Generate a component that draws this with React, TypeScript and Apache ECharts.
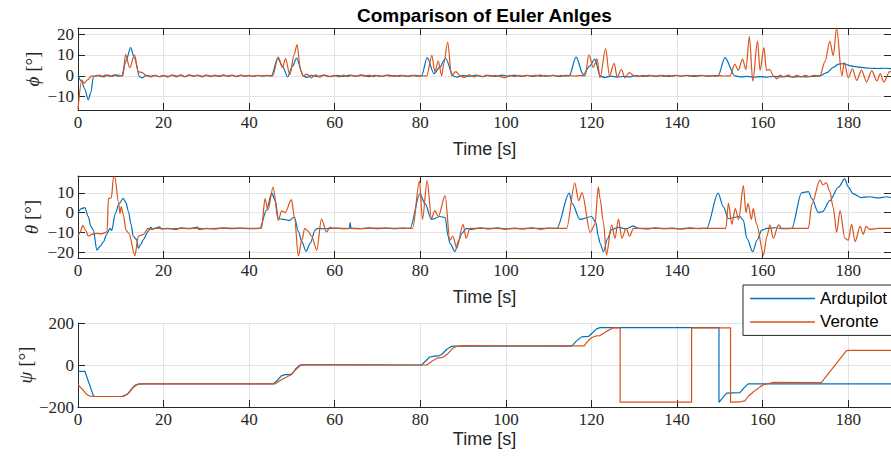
import React, { useEffect, useRef } from 'react';
import * as echarts from 'echarts';

// ---- data -------------------------------------------------------------
const seriesNames = ['Ardupilot', 'Veronte'];
const timeTicks = [0, 20, 40, 60, 80, 100, 120, 140, 160, 180];
const phiTicks = [-10, 0, 10, 20];
const thetaTicks = [-20, -10, 0, 10];
const psiTicks = [-200, 0, 200];

// roll angle phi [deg] vs time [s]
const phiArdupilot: [number, number][] = [
  [0, 0], [0.8, -2.5], [1.6, -6.5], [2.4, -11.5], [3.0, -8], [3.6, -0.5], [4.5, 0.2], [5.5, -0.4], [6.5, 0.3],
  [7.5, -0.3], [8.5, 0.4], [9.5, -0.2], [10.2, 0], [11.2, 7], [12.3, 13.5], [13.2, 8.5], [14.4, -0.5], [15, -1],
  [16, 0.2], [17, -0.3], [18, 0.2], [19, -0.4], [20, 0.1], [21, -0.3], [22, 0.3], [23, -0.2], [24, 0.2], [25, -0.4],
  [26, 0.3], [27, -0.2], [28, 0.2], [29, -0.3], [30, 0.3], [31, -0.2], [32, 0.1], [33, -0.3], [34, 0.2], [35, -0.2],
  [36, 0.3], [37, -0.3], [38, 0.2], [39, -0.2], [40, 0.1], [41, -0.3], [42, 0.2], [43, -0.2], [44, 0.1], [45.2, 0],
  [46.7, 8.5], [47.8, 4.5], [49.0, -0.5], [50.1, 4.5], [51.1, 8.5], [52.6, 0], [53.5, -0.8], [54.5, 0.2], [56, -0.3],
  [57.5, 0.3], [59, -0.4], [60.5, 0.2], [62, -0.3], [63.5, 0.3], [65, -0.2], [66.5, 0.3], [68, -0.4], [69.5, 0.2],
  [71, -0.3], [72.5, 0.3], [74, -0.2], [75.5, 0.2], [77, -0.3], [78.5, 0.2], [80.3, 0], [81.6, 8.7], [83.2, 1],
  [84.5, 4], [85.9, 8.4], [87.7, 0], [88.5, -0.6], [90, 0.2], [91.5, -0.3], [93, 0.3], [94.5, -0.4], [96, 0.2],
  [97.5, -0.3], [99, 0.3], [100.5, -0.2], [102, 0.3], [103.5, -0.3], [105, 0.2], [106.5, -0.3], [108, 0.3],
  [109.5, -0.2], [111, 0.2], [112.5, -0.3], [114, 0.2], [114.8, 0], [116.4, 8.9], [118.1, 0.5], [119.5, 4.5],
  [120.8, 8], [122, 0], [123, -0.8], [124.5, -0.2], [126, -0.6], [127.5, -0.3], [129, -0.5], [130.5, 0.1],
  [132, -0.3], [133.5, 0.2], [135, -0.3], [136.5, 0.2], [138, -0.3], [139.5, 0.2], [141, -0.2], [142.5, 0.2],
  [144, -0.3], [145.5, 0.2], [147, -0.2], [148.5, 0.1], [149.6, 0], [151.2, 8.7], [153.5, 0], [155, -0.5],
  [156.5, -0.3], [158, -0.7], [159.5, -0.4], [161, -0.6], [162.5, -0.3], [164, -0.5], [165.5, -0.3], [167, -0.6],
  [168.5, -0.4], [170, -0.5], [171.5, -0.3], [173.4, 0], [175, 1.5], [176.5, 4], [177.7, 5.6], [179, 5.8],
  [180.2, 5], [181.2, 4.5], [183, 4], [185, 3.6], [187, 3.5], [188.5, 3.6], [190, 3.4],
];

const phiVeronte: [number, number][] = [
  [0, -16], [0.9, -2], [1.4, -3.5], [2.2, -2], [3.2, 0], [4, -0.3], [5, 0.3], [6, -0.6], [7, 0.4], [8, -0.3],
  [9, 0.5], [10.5, 0], [11.1, 10.2], [12.1, 3.9], [13.2, 10], [14.1, 2], [15, 1.5], [16, 0], [17, -0.5], [18, 0.2],
  [19, -0.4], [20, 0.2], [21, -0.6], [22, 0.3], [23, -0.5], [24, 0.4], [25, -0.4], [26, 0.5], [27, -0.3], [28, 0.3],
  [29, -0.5], [30, 0.2], [31, -0.4], [32, 0.3], [33, -0.2], [34, 0.4], [35, -0.3], [36, 0.2], [37, -0.4], [38, 0.3],
  [39, -0.2], [40, 0.2], [41, -0.3], [42, 0.2], [43, -0.2], [44, 0.2], [45.5, 0], [46.8, 9], [47.8, 4], [48.5, 8.2],
  [49.5, 0.5], [50.5, 10], [51.2, 15], [52.0, 3], [52.6, 0], [53.5, 0.8], [54.5, -1], [55.5, 0.4], [56.5, -0.7],
  [57.5, 0.3], [58.5, -0.4], [60, 0.2], [61, -0.5], [62, 0.3], [63, -0.4], [64, 0.2], [65, -0.3], [66, 0.4],
  [67, -0.2], [68, 0.3], [69, -0.4], [70, 0.2], [71, -0.3], [72, 0.3], [73, -0.2], [74, 0.2], [75, -0.3], [76, 0.2],
  [77, -0.2], [78, 0.2], [79, -0.2], [81.5, 0], [82.7, 9.8], [83.4, 2], [84.2, 7], [85, 0], [85.5, 6], [86.4, 16.2],
  [87.3, 0], [88.3, 2], [89.3, 0], [90.3, -0.8], [91.5, 0.4], [92.5, -0.5], [93.5, 0.2], [94.5, -0.4], [95.5, 0.3],
  [96.5, -0.2], [97.5, 0.2], [98.5, -0.3], [99.8, -1], [101, 0.2], [102, -0.4], [103, 0.2], [104, -0.3], [105, 0.2],
  [106, -0.2], [107, 0.3], [108, -0.3], [109, 0.2], [110, -0.2], [111, 0.2], [112, -0.2], [113, 0.2], [114, -0.2],
  [115, 0.2], [116, -0.2], [117, 0.1], [118.5, 0], [119.4, 10], [120.4, 4], [121.3, 8], [122, -1], [123.3, 13],
  [124.2, 0], [125.3, 6], [126, -0.5], [127, 3], [127.8, -1], [128.8, 1.5], [130, 0], [131, -0.4], [132, 0.2],
  [133, -0.3], [134, 0.2], [135, -0.2], [136, 0.2], [137, -0.3], [138, 0.2], [139, -0.2], [140, 0.2], [141, -0.2],
  [142, 0.2], [143, -0.2], [144, 0.2], [145, -0.2], [146, 0.2], [147, -0.2], [148, 0.1], [149, -0.2], [150, 0.1],
  [151, -0.1], [152.4, 0], [153.5, 5.6], [154.3, 2.6], [155.3, 8], [156.1, 3], [156.9, 18.8], [157.7, -2.6],
  [158.8, 16.6], [159.4, 2.6], [160.3, 13.5], [160.9, 2.6], [161.7, 3], [162.5, 0], [163.3, -1.5], [164, 0.3],
  [165, -0.5], [166, 0.3], [167, -0.7], [168, 0.2], [169, -0.5], [170, 0.2], [171, -0.4], [172, 0.2], [173.4, 0],
  [174.6, 7], [175.7, 16.6], [176.5, 9.6], [177.3, 23], [178.5, 0], [179.1, 6.3], [180, -1], [181, 3.3], [182, -2.2],
  [183.1, 2.7], [184.3, -3], [185.5, 2.5], [186.7, -2.5], [187.5, 1], [188.3, -3], [189.7, 2], [190, 1.8],
];

// pitch angle theta [deg] vs time [s]
const thetaArdupilot: [number, number][] = [
  [0, 0], [0.8, 2], [1.6, 2.5], [2.4, -2], [3.0, -7], [3.6, -9], [4.4, -19], [5.2, -17], [5.9, -15], [6.7, -11],
  [7.5, -8], [7.9, -9], [8.7, -0.5], [9.6, 4.5], [10.6, 7.2], [11.2, 5], [11.8, 0.4], [12.4, -6], [12.9, -12],
  [13.7, -13.7], [14.1, -18], [14.7, -16], [15.3, -13.5], [16.4, -9.5], [17, -7.5], [17.5, -8.5], [18, -8],
  [19, -7.2], [19.5, -8.3], [21, -8], [23, -8.5], [24, -7.8], [26, -8.2], [28, -7.3], [28.2, -8.5], [30, -8],
  [32, -8.3], [34, -7.8], [36, -8.2], [38, -7.9], [40, -8.2], [42.5, -8], [44, 1], [45.3, 9.8], [46.1, 6],
  [46.8, -3], [48, -3.5], [49.5, -4], [50.3, -2.5], [50.6, -2.6], [51.5, -9.7], [52.3, -14.7], [53.3, -19.6],
  [54.3, -15.5], [55.4, -8.9], [56, -8], [58, -8.2], [60, -7.9], [62, -8.2], [63.4, -8], [63.6, -5], [63.8, -8],
  [66, -8.1], [68, -7.8], [70, -8.2], [72, -7.9], [74, -8.1], [76, -7.9], [77.6, -8], [79.9, 9.5], [81.1, 4.5],
  [82.6, -3.5], [84.6, -2], [85.8, -2.5], [86.5, -12], [86.9, -15.5], [88.1, -19.7], [89, -14], [89.7, -10.6],
  [90.8, -8], [92, -8.5], [94, -7.8], [96, -8.3], [98, -7.8], [100, -8.4], [102, -7.9], [104, -8.3], [106, -7.7],
  [108, -8.4], [110, -7.9], [111.9, -8], [114.8, 9.8], [115.5, 4.5], [117.3, -3.5], [120, -2], [121, -5],
  [121.6, -12], [122, -15.5], [122.8, -19.8], [123.8, -13], [124.7, -8.7], [126.3, -7.5], [128, -8.2],
  [129.8, -6.9], [131, -8], [133, -8.3], [135, -7.8], [137, -8.2], [139, -7.9], [141, -8.3], [143, -7.8],
  [145, -8.1], [146.9, -8], [149.6, 9.8], [150.8, 3], [152, -3], [154.7, -2], [155.5, -4], [156.3, -13],
  [157.7, -19.8], [158.7, -14], [159.8, -8.9], [161, -8], [163, -7.7], [165, -8.2], [166.8, -8], [169.1, 10],
  [170.7, 10.6], [171.5, 7], [173, 0], [174, 0.5], [175.7, 6], [177.7, 12.8], [179.2, 17], [180, 13], [181.1, 9.6],
  [183, 7.6], [185, 8], [187, 7.4], [189, 8], [190, 7.6],
];

const thetaVeronte: [number, number][] = [
  [0, -12], [0.5, -10], [1.1, -6.5], [1.8, -9], [2.4, -12], [3.2, -11], [4.5, -10.5], [5.5, -10.8], [6.8, -9.8],
  [7.1, 7], [7.8, 7.5], [8.3, 18], [8.6, 18], [9.5, 4.8], [9.8, -0.5], [10.1, 3], [10.6, -1], [11.2, -8.9],
  [11.9, -10.5], [13.3, -21.8], [14.1, -12], [14.7, -11.5], [15.3, -11], [16.4, -8], [17, -8.5], [18, -7.9],
  [20, -8.2], [25, -8], [30, -8.1], [35, -7.9], [42.9, -8], [43.7, 7], [44.4, 1.3], [45.6, 12.9], [46.8, -4],
  [47.6, 0.8], [48.4, 0], [49.9, 6.5], [50.6, -2.7], [51.5, -22], [52.3, -14], [53, -8], [53.8, -9.5], [54.6, -12],
  [55.8, -19], [56.9, -3.3], [58.1, -9.8], [58.9, -7.3], [59.5, -8], [65, -8.1], [70, -7.9], [78.2, -8],
  [79.8, 15.9], [80.5, -3.5], [81.6, 16.2], [82.6, -3], [83.4, 1], [84.2, -2], [85.8, 8.6], [86.9, -14],
  [87.6, -12], [88.5, -18], [90, -6], [90.7, -13], [91.6, -8], [100, -8.1], [114.2, -8], [116.1, 14.9], [117, 6],
  [117.8, 10], [119.7, -10], [120.8, -6], [121.6, 13], [122, 7], [122.8, -5], [123.5, -21.5], [124.7, -6.2],
  [125.5, -13], [126.3, -3.3], [127.1, -13], [128.1, -8], [128.9, -12], [129.8, -8], [140, -8.1], [151.4, -8],
  [152, 4.8], [152.8, -6], [153.6, 2], [154.4, -3.5], [155.5, 13.6], [156.1, 0], [156.6, 4.5], [157.4, -3.5],
  [157.8, 2], [158.6, -6], [160.2, -21.5], [161, -12], [161.7, -6.2], [162.5, -13], [163.7, -6.2], [164.5, -8],
  [170.7, -8], [171.5, 4.3], [173.4, 16.4], [174.1, 14], [174.9, 15], [175.7, 10.7], [176.5, 2.5], [177.3, -10],
  [178.1, 1], [179.2, -13], [180, -14], [180.8, -6], [181.6, -14.7], [182.8, -7], [183.5, -11], [184.2, -7],
  [185, -8.5], [187, -8], [190, -8],
];

// yaw angle psi [deg] vs time [s]
const psiArdupilot: [number, number][] = [
  [0, -30], [1.6, -30], [3.6, -147], [4, -150], [10.2, -150], [11.5, -140], [12.5, -115], [13.3, -97],
  [14.1, -91], [15, -90], [45.6, -90], [46.5, -75], [47.5, -52], [48.4, -46], [49.5, -46], [50.2, -38],
  [51, -15], [51.9, 0], [52.5, 1], [80.3, 0], [81.3, 20], [82.2, 38], [83, 41], [84.2, 43], [85, 50],
  [86.2, 75], [87.3, 89], [88, 90], [115.4, 90], [116.5, 115], [117.7, 134], [119.3, 136], [120.3, 155],
  [121.2, 172], [122, 178], [149.8, 178], [149.8, -178], [150.5, -160], [151.6, -134], [154.7, -132],
  [155.6, -110], [156.6, -90], [190, -90],
];

const psiVeronte: [number, number][] = [
  [0, -94], [1, -115], [2, -140], [2.8, -148], [4, -150], [10.6, -150], [11.8, -135], [12.8, -110], [13.6, -95],
  [14.5, -90], [46, -90], [47.5, -70], [49, -55], [49.9, -45], [51, -20], [52, -2], [53, 2], [55, 2], [80, 0],
  [81.5, 0], [82.7, 18], [84, 33], [85.2, 36], [86.5, 55], [87.6, 80], [88.5, 89], [90, 92], [118.3, 91],
  [119, 110], [120, 130], [121, 138], [122, 140], [123.5, 160], [125.1, 177], [126.7, 177], [126.7, -177],
  [143.4, -177], [143.4, 177], [152.5, 177], [152.5, -177], [154.7, -176], [155.9, -170], [156.6, -150],
  [158, -125], [159.5, -103], [160.2, -94], [162.5, -83], [173.7, -84], [179.6, 68], [180.5, 70], [190, 70],
];

// ---- styling ------------------------------------------------------------
const BLUE = '#0072BD';
const ORANGE = '#D95319';
const AXIS = '#262626';
const GRID = '#e2e2e2';
const SERIF = "'Liberation Serif', 'Times New Roman', serif";
const SANS = "'Liberation Sans', Arial, Helvetica, sans-serif";

const minus = (v: number) => String(v).replace('-', '\u2212');

const bottomX = (gridIndex: number, nameGap: number) => ({
  type: 'value', gridIndex, position: 'bottom', min: 0, max: 190,
  name: 'Time [s]', nameLocation: 'middle', nameGap, nameMoveOverlap: false,
  nameTextStyle: { fontFamily: SANS, fontSize: 18, color: AXIS },
  axisLine: { show: true, onZero: false, lineStyle: { color: AXIS, width: 1 } },
  axisTick: { show: true, inside: true, length: 7, customValues: timeTicks, lineStyle: { color: AXIS } },
  axisLabel: { customValues: timeTicks, margin: 4, fontFamily: SERIF, fontSize: 17, color: AXIS },
  splitLine: { show: true, lineStyle: { color: GRID, width: 1 } },
});

const topX = (gridIndex: number) => ({
  type: 'value', gridIndex, position: 'top', min: 0, max: 190,
  axisLine: { show: true, onZero: false, lineStyle: { color: AXIS, width: 1 } },
  axisTick: { show: true, inside: true, length: 7, customValues: timeTicks, lineStyle: { color: AXIS } },
  axisLabel: { show: false },
  splitLine: { show: false },
});

const leftY = (
  gridIndex: number, min: number, max: number, ticks: number[], symbol: string, nameGap: number,
) => ({
  type: 'value', gridIndex, position: 'left', min, max,
  name: `{g|${symbol}} [°]`, nameLocation: 'middle', nameGap, nameRotate: 90, nameMoveOverlap: false,
  nameTextStyle: {
    fontFamily: SERIF, fontSize: 19, color: AXIS,
    rich: { g: { fontFamily: SERIF, fontSize: 19, fontStyle: 'italic', color: AXIS } },
  },
  axisLine: { show: true, onZero: false, lineStyle: { color: AXIS, width: 1 } },
  axisTick: { show: true, inside: true, length: 7, customValues: ticks, lineStyle: { color: AXIS } },
  axisLabel: { customValues: ticks, margin: 4, fontFamily: SERIF, fontSize: 17, color: AXIS, formatter: minus },
  splitLine: { show: true, lineStyle: { color: GRID, width: 1 } },
});

const rightY = (gridIndex: number, min: number, max: number, ticks: number[]) => ({
  type: 'value', gridIndex, position: 'right', min, max,
  axisLine: { show: true, onZero: false, lineStyle: { color: AXIS, width: 1 } },
  axisTick: { show: true, inside: true, length: 7, customValues: ticks, lineStyle: { color: AXIS } },
  axisLabel: { show: false },
  splitLine: { show: false },
});

const line = (
  name: string, color: string, data: [number, number][], xi: number, yi: number, smooth: number,
) => ({
  name, type: 'line', xAxisIndex: xi, yAxisIndex: yi, data, showSymbol: false, symbol: 'none',
  smooth, smoothMonotone: 'x',
  lineStyle: { color, width: 1.2 }, itemStyle: { color }, clip: true,
});

export default function App() {
  const ref = useRef<HTMLDivElement>(null);

  useEffect(() => {
    if (!ref.current) return;
    const chart = echarts.init(ref.current, undefined, { renderer: 'svg' });
    chart.setOption({
      animation: false,
      backgroundColor: '#ffffff',
      title: {
        text: 'Comparison of Euler Anlges', left: 357, top: 6, padding: 0,
        textStyle: { fontFamily: SANS, fontSize: 19, fontWeight: 'bold', color: '#000' },
      },
      legend: {
        data: seriesNames, orient: 'vertical', left: 743, top: 285, selectedMode: false,
        icon: 'rect', itemWidth: 65, itemHeight: 1.5, itemGap: 6.4, padding: [5, 8, 5, 7],
        backgroundColor: '#ffffff', borderColor: AXIS, borderWidth: 1, borderRadius: 0,
        textStyle: { fontFamily: SANS, fontSize: 17, color: '#000' },
      },
      grid: [
        { left: 78, right: 0, top: 28, height: 82 },
        { left: 78, right: 0, top: 176, height: 82 },
        { left: 78, right: 0, top: 323, height: 84 },
      ],
      xAxis: [bottomX(0, 30), topX(0), bottomX(1, 30), topX(1), bottomX(2, 23)],
      yAxis: [
        leftY(0, -16.4, 22.9, phiTicks, 'ϕ', 36),
        rightY(0, -16.4, 22.9, phiTicks),
        leftY(1, -23, 18.5, thetaTicks, 'θ', 37),
        rightY(1, -23, 18.5, thetaTicks),
        leftY(2, -200, 200, psiTicks, 'ψ', 43),
      ],
      series: [
        line(seriesNames[0], BLUE, phiArdupilot, 0, 0, 0.3),
        line(seriesNames[1], ORANGE, phiVeronte, 0, 0, 0.3),
        line(seriesNames[0], BLUE, thetaArdupilot, 2, 2, 0.3),
        line(seriesNames[1], ORANGE, thetaVeronte, 2, 2, 0.3),
        line(seriesNames[0], BLUE, psiArdupilot, 4, 4, 0),
        line(seriesNames[1], ORANGE, psiVeronte, 4, 4, 0),
      ],
    });
    return () => chart.dispose();
  }, []);

  return (
    <div
      ref={ref}
      style={{ position: 'fixed', left: 0, top: 0, width: 891, height: 457, background: '#fff' }}
    />
  );
}
